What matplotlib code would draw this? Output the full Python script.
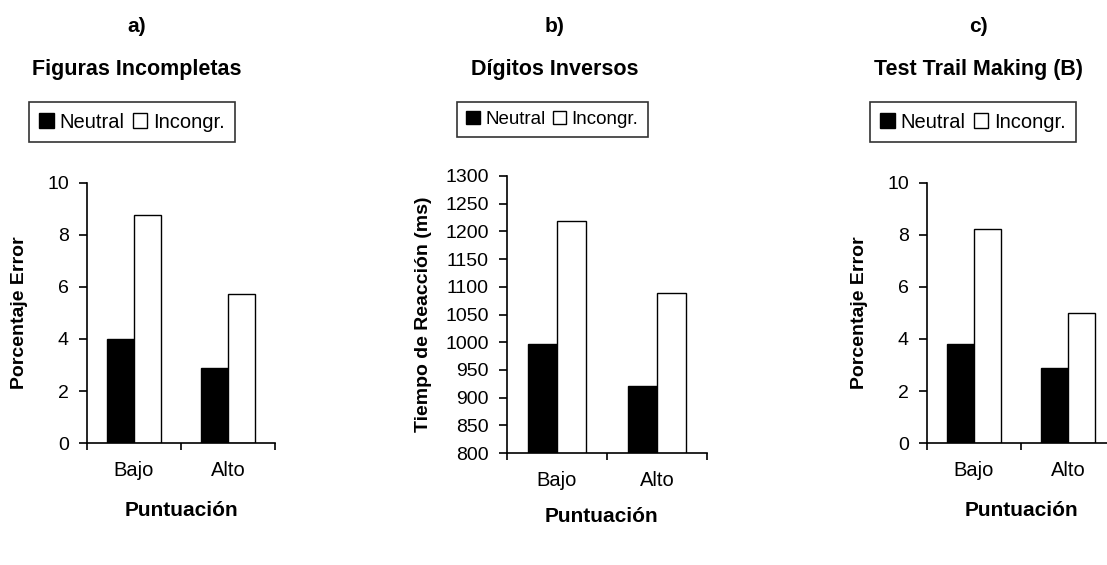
import matplotlib
matplotlib.use("Agg")

import matplotlib.pyplot as plt
import numpy as np
from matplotlib.patches import Patch


plt.rcParams["font.family"] = ["Liberation Sans", "DejaVu Sans"]

CATEGORIES = ["Bajo", "Alto"]
SERIES = ["Neutral", "Incongr."]

FIGURAS_NEUTRAL = [4.0, 2.88]
FIGURAS_INCONGR = [8.78, 5.72]

DIGITOS_NEUTRAL = [996, 921]
DIGITOS_INCONGR = [1219, 1089]

TRAIL_NEUTRAL = [3.82, 2.88]
TRAIL_INCONGR = [8.22, 5.0]

W, H = 1107, 565
DPI = 100


def rect(x0, y0, x1, y1):
    # pixel box -> figure fraction
    return [x0 / W, 1 - y1 / H, (x1 - x0) / W, (y1 - y0) / H]


def panel(fig, box, neutral, incongr, ylim, yticks, ylabel, letter, title, title_x, leg_box, leg_size,
          ylabel_x, xlabel_y):
    ax = fig.add_axes(rect(*box))
    x = np.arange(len(CATEGORIES)) + 0.5
    width = 0.29
    ax.bar(x - width / 2, neutral, width, color="black", edgecolor="black", linewidth=1.0)
    ax.bar(x + width / 2, incongr, width, color="white", edgecolor="black", linewidth=1.0)
    ax.set_xlim(0, len(CATEGORIES))
    ax.set_ylim(*ylim)
    ax.set_yticks(yticks)
    ax.set_xticks(x)
    ax.set_xticklabels(CATEGORIES)
    ax.set_xticks(np.arange(len(CATEGORIES) + 1), minor=True)
    ax.tick_params(axis="x", which="major", length=0, pad=13, labelsize=14.5)
    ax.tick_params(axis="x", which="minor", length=5, width=1.2, direction="out")
    ax.tick_params(axis="y", length=6, width=1.2, labelsize=14, pad=7)
    for s in ("top", "right"):
        ax.spines[s].set_visible(False)
    for s in ("left", "bottom"):
        ax.spines[s].set_linewidth(1.2)

    fig.text(ylabel_x / W, 1 - ((box[1] + box[3]) / 2) / H, ylabel, rotation=90,
             ha="center", va="center", fontsize=14, fontweight="bold")
    fig.text(title_x / W, 1 - 27 / H, letter, ha="center", va="center", fontsize=15, fontweight="bold")
    fig.text(title_x / W, 1 - 69 / H, title, ha="center", va="center", fontsize=15.5, fontweight="bold")
    fig.text((box[0] + 94) / W, 1 - xlabel_y / H,
             "Puntuación", ha="center", va="center", fontsize=15, fontweight="bold")

    handles = [Patch(facecolor="black", edgecolor="black"),
               Patch(facecolor="white", edgecolor="black")]
    lx0, ly0, lx1, ly1 = leg_box
    leg = fig.legend(handles, SERIES, ncol=2, loc="center",
                     bbox_to_anchor=((lx0 + lx1) / 2 / W, 1 - (ly0 + ly1) / 2 / H),
                     fontsize=leg_size, frameon=True, fancybox=False, edgecolor="black",
                     handlelength=0.7, handleheight=0.7, handletextpad=0.3,
                     columnspacing=0.4, borderpad=0.5, borderaxespad=0)
    leg.get_frame().set_linewidth(1.2)
    return ax


fig = plt.figure(figsize=(W / DPI, H / DPI), dpi=DPI)

panel(fig, (87, 183, 275, 443), FIGURAS_NEUTRAL, FIGURAS_INCONGR, (0, 10), [0, 2, 4, 6, 8, 10],
      "Porcentaje Error", "a)", "Figuras Incompletas", 137, (24, 102, 240, 142), 14.5, 20, 511)
panel(fig, (507, 176, 707, 453), DIGITOS_NEUTRAL, DIGITOS_INCONGR, (800, 1300), np.arange(800, 1301, 50),
      "Tiempo de Reacción (ms)", "b)", "Dígitos Inversos", 555, (453, 103, 652, 136), 13.5, 424, 516)
panel(fig, (927, 183, 1115, 443), TRAIL_NEUTRAL, TRAIL_INCONGR, (0, 10), [0, 2, 4, 6, 8, 10],
      "Porcentaje Error", "c)", "Test Trail Making (B)", 978, (865, 102, 1081, 142), 14.5, 859, 511)

fig.savefig("out.png", dpi=DPI, facecolor="white")
